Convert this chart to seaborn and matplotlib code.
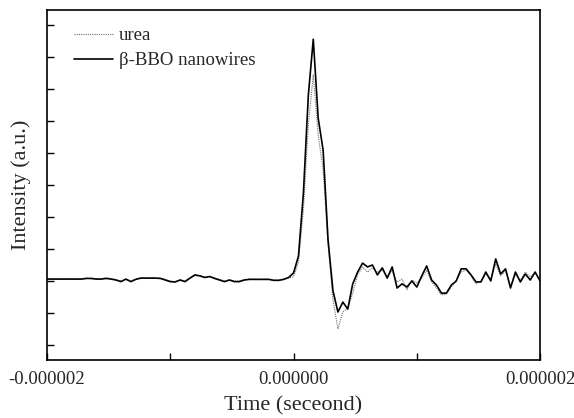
import numpy as np
import pandas as pd
import matplotlib
matplotlib.use("Agg")
import matplotlib.pyplot as plt
from matplotlib.ticker import FixedLocator
import seaborn as sns

# time axis: 101 samples from -2e-6 s to 2e-6 s (step 4e-8 s)
time_s = np.linspace(-2e-6, 2e-6, 101)

bbo = [0.06, 0.06, 0.06, 0.06, 0.06, 0.06, 0.06, 0.06, 0.08, 0.08,
       0.06, 0.06, 0.08, 0.06, 0.03, -0.02, 0.06, -0.02, 0.05, 0.09,
       0.09, 0.09, 0.09, 0.08, 0.03, -0.02, -0.03, 0.03, -0.02, 0.09,
       0.19, 0.16, 0.11, 0.14, 0.08, 0.03, -0.02, 0.03, -0.02, -0.02,
       0.03, 0.05, 0.05, 0.05, 0.05, 0.05, 0.02, 0.02, 0.05, 0.11,
       0.25, 0.78, 2.75, 5.81, 7.56, 5.09, 4.09, 1.28, -0.31, -0.97,
       -0.66, -0.88, -0.09, 0.28, 0.56, 0.44, 0.50, 0.19, 0.41, 0.09,
       0.44, -0.22, -0.09, -0.19, 0.00, -0.19, 0.16, 0.47, 0.03, -0.13,
       -0.38, -0.38, -0.13, 0.00, 0.38, 0.38, 0.19, -0.03, -0.03, 0.28,
       0.00, 0.69, 0.22, 0.38, -0.22, 0.28, -0.03, 0.22, 0.03, 0.28,
       0.00]

urea = [0.06, 0.06, 0.05, 0.06, 0.07, 0.06, 0.05, 0.06, 0.09, 0.07,
        0.06, 0.07, 0.10, 0.07, 0.04, 0.00, 0.05, 0.00, 0.06, 0.10,
        0.09, 0.10, 0.08, 0.09, 0.05, 0.00, -0.02, 0.04, 0.00, 0.10,
        0.17, 0.17, 0.12, 0.13, 0.09, 0.05, 0.00, 0.04, 0.00, 0.00,
        0.04, 0.06, 0.06, 0.05, 0.06, 0.05, 0.03, 0.03, 0.06, 0.09,
        0.13, 0.59, 2.22, 4.88, 6.44, 4.56, 3.47, 1.13, -0.59, -1.50,
        -0.97, -0.84, -0.38, 0.19, 0.44, 0.28, 0.41, 0.28, 0.34, 0.16,
        0.31, -0.03, 0.06, -0.28, 0.03, -0.06, 0.09, 0.34, -0.03, -0.22,
        -0.44, -0.41, -0.19, 0.03, 0.28, 0.34, 0.16, -0.09, 0.00, 0.22,
        0.06, 0.53, 0.16, 0.31, -0.16, 0.19, 0.03, 0.28, 0.13, 0.25,
        0.03]

series_names = ["urea", "β-BBO nanowires"]
xtick_values = [-2e-6, 0.0, 2e-6]
xtick_labels = ["-0.000002", "0.000000", "0.000002"]
x_minor = [-1e-6, 1e-6]
y_ticks = list(range(-2, 9))

df = pd.DataFrame({
    "Time": np.concatenate([time_s, time_s]),
    "Intensity": np.concatenate([urea, bbo]),
    "Sample": [series_names[0]] * len(time_s) + [series_names[1]] * len(time_s),
})

sns.set_style("ticks")
plt.rcParams["font.family"] = ["Liberation Serif", "DejaVu Serif"]

fig = plt.figure(figsize=(5.74, 4.18), dpi=100)
ax = fig.add_axes([0.0819, 0.1388, 0.859, 0.837])

sns.lineplot(data=df, x="Time", y="Intensity", hue="Sample", style="Sample",
             palette={series_names[0]: "#707070", series_names[1]: "black"},
             dashes={series_names[0]: (1, 1), series_names[1]: ""},
             size="Sample", sizes={series_names[0]: 0.8, series_names[1]: 1.2},
             ax=ax, legend=True)

ax.set_xlim(-2e-6, 2e-6)
ax.set_ylim(-2.47, 8.47)
ax.set_xticks(xtick_values)
ax.set_xticklabels(xtick_labels)
ax.xaxis.set_minor_locator(FixedLocator(x_minor))
ax.set_yticks(y_ticks)
ax.set_yticklabels([])
ax.tick_params(axis="both", which="both", direction="in", length=5, width=1, color="black")
ax.tick_params(axis="x", which="major", labelsize=13.5, pad=8)
for s in ax.spines.values():
    s.set_linewidth(1.2)
    s.set_color("black")

ax.set_xlabel("Time (seceond)", fontsize=16, labelpad=6)
ax.set_ylabel("Intensity (a.u.)", fontsize=16, labelpad=8)

handles, labels = ax.get_legend_handles_labels()
leg = ax.legend(handles=handles, labels=labels, loc="upper left", frameon=False,
                fontsize=13.5, handlelength=2.1, handletextpad=0.3,
                bbox_to_anchor=(0.02, 1.0), labelspacing=0.42)

fig.savefig("out.png", dpi=100)
